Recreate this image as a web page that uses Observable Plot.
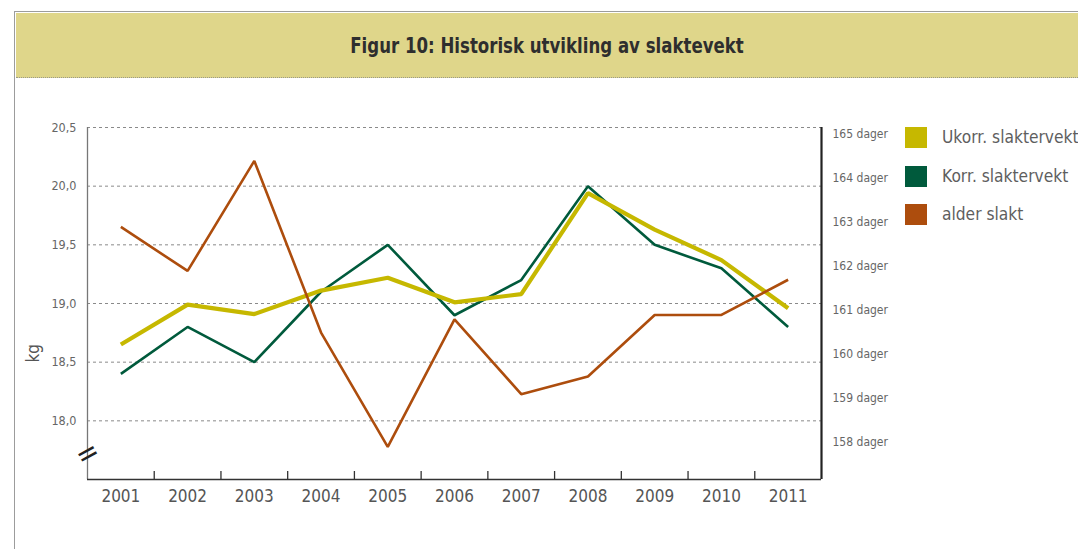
<!DOCTYPE html>
<html><head><meta charset="utf-8">
<script src="https://cdn.jsdelivr.net/npm/d3@7"></script>
<script src="https://cdn.jsdelivr.net/npm/@observablehq/plot@0.6"></script>
<style>
body{margin:0;background:#fff;}
#page{position:relative;width:1078px;height:549px;overflow:hidden;font-family:"DejaVu Sans",sans-serif;}
#frame{position:absolute;left:14px;top:11px;right:-5px;bottom:-5px;border-left:1.5px solid #9c9c9c;border-top:1.5px solid #9c9c9c;}
#band{position:absolute;left:15.5px;top:12.5px;right:0;height:64px;background:#dfd68a;border-bottom:1px dotted #9a9a8a;}
#title{position:absolute;left:15px;right:0;top:34px;text-align:center;}
#title span{display:inline-block;font-size:21px;font-weight:bold;color:#2e2e2e;transform:scaleX(0.79);transform-origin:center;white-space:nowrap;}
#chart{position:absolute;left:0;top:78px;}
#legend{position:absolute;left:905px;top:127px;}
.item{position:relative;height:38.5px;}
.sw{position:absolute;left:0;top:0;width:22px;height:21px;}
.lab{position:absolute;left:37px;top:-1px;font-size:18px;color:#5e5e5e;white-space:nowrap;transform:scaleX(0.86);transform-origin:left center;}
</style></head>
<body><div id="page">
<div id="frame"></div>
<div id="band"></div>
<div id="title"><span>Figur 10: Historisk utvikling av slaktevekt</span></div>
<div id="chart"></div>
<div id="legend"></div>
</div>
<script>
const years = [2001, 2002, 2003, 2004, 2005, 2006, 2007, 2008, 2009, 2010, 2011];
const ukorr = [18.65, 18.99, 18.91, 19.11, 19.22, 19.01, 19.08, 19.94, 19.63, 19.37, 18.96];
const korr  = [18.4, 18.8, 18.5, 19.1, 19.5, 18.9, 19.2, 20.0, 19.5, 19.3, 18.8];
const alder = [162.9, 161.9, 164.4, 160.5, 157.9, 160.8, 159.1, 159.5, 160.9, 160.9, 161.7];
const kgTicks = [18.0, 18.5, 19.0, 19.5, 20.0, 20.5];
const dagerTicks = [158, 159, 160, 161, 162, 163, 164, 165];
const seriesNames = ["Ukorr. slaktervekt", "Korr. slaktervekt", "alder slakt"];
const seriesColors = ["#c6b800", "#005a3c", "#ad4d0d"];

const font = '"DejaVu Sans Condensed","DejaVu Sans",sans-serif';
// map days (right axis) onto kg (left axis)
const dayToKg = d3.scaleLinear().domain([158, 165]).range([17.815, 20.44]);
const kgToDay = (v) => dayToKg.invert(v);

const xDomain = [years[0] - 0.5, years[years.length - 1] + 0.5];
const yDomain = [17.5, 20.5];
const boundaries = years.slice(1).map(y => y - 0.5);

const rows = (vals) => years.map((y, i) => ({year: y, v: vals[i]}));
const comma = d3.format(".1f");

const chart = Plot.plot({
  width: 1078, height: 471,
  marginLeft: 87, marginRight: 257, marginTop: 49, marginBottom: 70,
  style: {background: "transparent", fontFamily: font},
  x: {domain: xDomain},
  y: {domain: yDomain},
  marks: [
    Plot.gridY(kgTicks, {stroke: "#8a8a8a", strokeOpacity: 1, strokeDasharray: "3,3"}),
    Plot.axisY(kgTicks, {tickSize: 0, tickPadding: 11, fontSize: 12.5, fill: "#666", label: null,
      tickFormat: d => comma(d).replace(".", ",")}),
    Plot.axisY(dagerTicks.map(d => dayToKg(d)), {anchor: "right", tickSize: 0, tickPadding: 11, fontSize: 12, fill: "#666", label: null,
      tickFormat: v => `${Math.round(kgToDay(v))} dager`}),
    Plot.axisX(years, {tickSize: 0, tickPadding: 10, fontSize: 17, fill: "#555", label: null, tickFormat: d => String(d)}),
    Plot.ruleX(boundaries, {stroke: "#333", strokeWidth: 1.3, insetTop: 344}),
    Plot.ruleX([xDomain[0]], {stroke: "#777", strokeWidth: 1.3}),
    Plot.ruleY([yDomain[0]], {stroke: "#333", strokeWidth: 1.5}),
    Plot.ruleX([xDomain[1]], {stroke: "#222", strokeWidth: 2.2}),
    Plot.text(["="], {frameAnchor: "bottom-left", textAnchor: "middle", lineAnchor: "middle", dy: -26, dx: 0, rotate: -29, fontSize: 30, fill: "#222"}),
    Plot.text(["kg"], {frameAnchor: "left", dx: -54, dy: 59, rotate: -90, fontSize: 17, fill: "#555"}),
    Plot.line(rows(korr), {x: "year", y: "v", stroke: seriesColors[1], strokeWidth: 2.6, strokeLinecap: "butt", strokeLinejoin: "miter"}),
    Plot.line(rows(ukorr), {x: "year", y: "v", stroke: seriesColors[0], strokeWidth: 4.2, strokeLinecap: "butt", strokeLinejoin: "miter"}),
    Plot.line(rows(alder.map(d => dayToKg(d))), {x: "year", y: "v", stroke: seriesColors[2], strokeWidth: 2.6, strokeLinecap: "butt", strokeLinejoin: "miter"})
  ]
});
document.getElementById("chart").appendChild(chart);

const legend = d3.select("#legend");
seriesNames.forEach((name, i) => {
  const it = legend.append("div").attr("class", "item");
  it.append("div").attr("class", "sw").style("background", seriesColors[i]);
  it.append("div").attr("class", "lab").text(name);
});
</script>
</body></html>
